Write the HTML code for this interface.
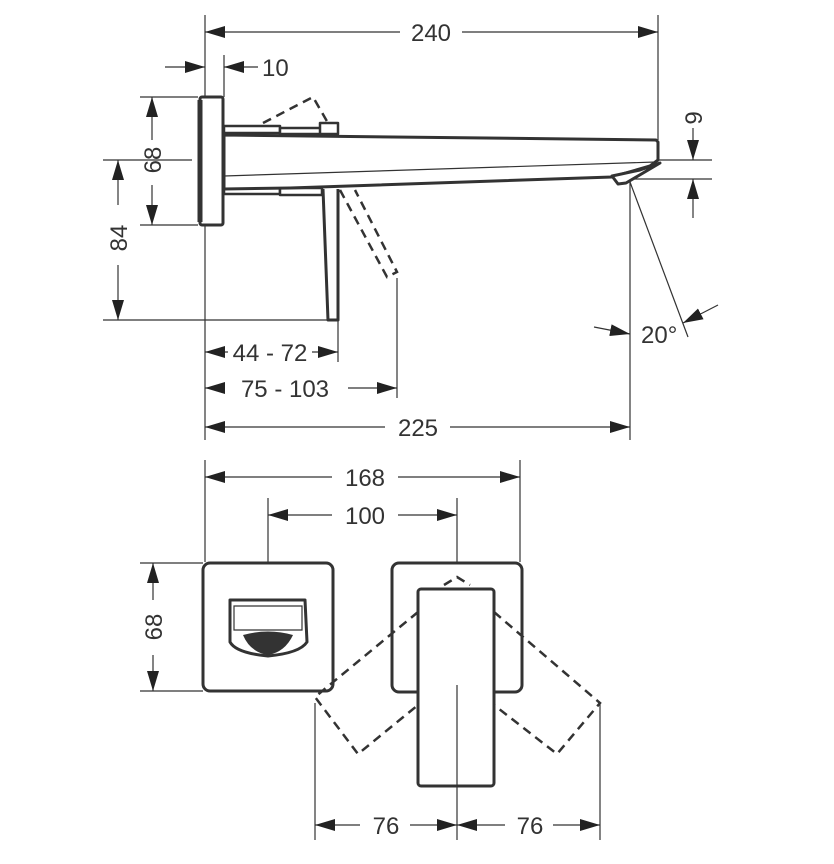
<!DOCTYPE html>
<html><head><meta charset="utf-8"><style>
html,body{margin:0;padding:0;background:#fff;}
svg{display:block;}
text{font-family:"Liberation Sans",sans-serif;font-size:24px;fill:#333;}
</style></head><body>
<svg width="834" height="864" viewBox="0 0 834 864" xmlns="http://www.w3.org/2000/svg">
<defs>
<marker id="a" viewBox="0 0 20 12" refX="20" refY="6" markerWidth="20" markerHeight="12" markerUnits="userSpaceOnUse" orient="auto"><path d="M0,0 L20,6 L0,12 z" fill="#222"/></marker>
<marker id="b" viewBox="0 0 20 12" refX="0" refY="6" markerWidth="20" markerHeight="12" markerUnits="userSpaceOnUse" orient="auto"><path d="M20,0 L0,6 L20,12 z" fill="#222"/></marker>
</defs>
<g stroke="#333" stroke-width="1.2" fill="none">
<line x1="205" y1="15" x2="205" y2="440"/>
<line x1="658" y1="15" x2="658" y2="140"/>
<line x1="224" y1="55" x2="224" y2="97"/>
<line x1="103" y1="160" x2="192" y2="160"/>
<line x1="228" y1="160" x2="712" y2="160"/>
<line x1="615" y1="179" x2="712" y2="179"/>
<line x1="140" y1="97" x2="198" y2="97"/>
<line x1="140" y1="225" x2="198" y2="225"/>
<line x1="103" y1="320" x2="330" y2="320"/>
<line x1="338" y1="320" x2="338" y2="362"/>
<line x1="397" y1="278" x2="397" y2="398"/>
<line x1="630" y1="182" x2="630" y2="440"/>
<line x1="630" y1="182" x2="688" y2="337"/>
<line x1="205" y1="32" x2="400" y2="32" marker-start="url(#b)"/>
<line x1="462" y1="32" x2="658" y2="32" marker-end="url(#a)"/>
<line x1="165" y1="67" x2="205" y2="67" marker-end="url(#a)"/>
<line x1="258" y1="67" x2="224" y2="67" marker-end="url(#a)"/>
<line x1="152" y1="140" x2="152" y2="97" marker-end="url(#a)"/>
<line x1="152" y1="185" x2="152" y2="225" marker-end="url(#a)"/>
<line x1="118" y1="205" x2="118" y2="160" marker-end="url(#a)"/>
<line x1="118" y1="265" x2="118" y2="320" marker-end="url(#a)"/>
<line x1="693" y1="128" x2="693" y2="160" marker-end="url(#a)"/>
<line x1="693" y1="218" x2="693" y2="179" marker-end="url(#a)"/>
<line x1="594" y1="327" x2="630" y2="334" marker-end="url(#a)"/>
<line x1="718" y1="305" x2="683" y2="323" marker-end="url(#a)"/>
<line x1="205" y1="352" x2="228" y2="352" marker-start="url(#b)"/>
<line x1="312" y1="352" x2="338" y2="352" marker-end="url(#a)"/>
<line x1="205" y1="388" x2="222" y2="388" marker-start="url(#b)"/>
<line x1="348" y1="388" x2="397" y2="388" marker-end="url(#a)"/>
<line x1="205" y1="427" x2="385" y2="427" marker-start="url(#b)"/>
<line x1="450" y1="427" x2="630" y2="427" marker-end="url(#a)"/>
<line x1="205" y1="460" x2="205" y2="562"/>
<line x1="520" y1="460" x2="520" y2="562"/>
<line x1="268" y1="498" x2="268" y2="598"/>
<line x1="457" y1="498" x2="457" y2="580"/>
<line x1="457" y1="685" x2="457" y2="840"/>
<line x1="315" y1="703" x2="315" y2="840"/>
<line x1="600" y1="703" x2="600" y2="840"/>
<line x1="140" y1="563" x2="203" y2="563"/>
<line x1="140" y1="691" x2="203" y2="691"/>
<line x1="205" y1="477" x2="332" y2="477" marker-start="url(#b)"/>
<line x1="398" y1="477" x2="520" y2="477" marker-end="url(#a)"/>
<line x1="268" y1="515" x2="332" y2="515" marker-start="url(#b)"/>
<line x1="398" y1="515" x2="457" y2="515" marker-end="url(#a)"/>
<line x1="153" y1="600" x2="153" y2="563" marker-end="url(#a)"/>
<line x1="153" y1="655" x2="153" y2="691" marker-end="url(#a)"/>
<line x1="315" y1="825" x2="360" y2="825" marker-start="url(#b)"/>
<line x1="410" y1="825" x2="457" y2="825" marker-end="url(#a)"/>
<line x1="457" y1="825" x2="505" y2="825" marker-start="url(#b)"/>
<line x1="553" y1="825" x2="600" y2="825" marker-end="url(#a)"/>
</g>
<g stroke="#333" stroke-width="3" fill="#fff" stroke-linejoin="round">
<rect x="200" y="97" width="23" height="128" rx="2"/>
<line x1="200" y1="100" x2="200" y2="222" stroke-width="5"/>
<path d="M224,126 L280,126 L280,133 L224,133 Z" stroke-width="2.5"/>
<path d="M224,187 L280,187 L280,194 L224,194 Z" stroke-width="2.5"/>
<rect x="280" y="128" width="42" height="6" stroke-width="2.5"/>
<rect x="320" y="123" width="18" height="11" stroke-width="2.5"/>
<rect x="280" y="188" width="42" height="7" stroke-width="2.5"/>
<path d="M224,135 L656,140 L658,142 L658,160 L650,166 L612,177 L290,188 L224,189 Z"/>
<path d="M612,176 L640,170 L660,163 L626,183 L618,184 Z" fill="#fff"/>
<path d="M323,189 L328,320 L338,320 L338,189" />
</g>
<g stroke="#333" stroke-width="1.2" fill="none">
<line x1="224" y1="176" x2="656" y2="162"/>
</g>
<g stroke="#333" stroke-width="2.5" fill="none" stroke-dasharray="9,6">
<path d="M263,123 L313,97 L328,123"/>
<path d="M340,190 L387,277 L397,272 L355,190"/>
</g>
<g stroke="#333" stroke-width="3" fill="#fff" stroke-linejoin="round">
<rect x="203" y="563" width="130" height="128" rx="7"/>
<path d="M230,600 L305,600 L307,642 Q300,653 268,656 Q236,653 230,642 Z"/>
<rect x="392" y="563" width="130" height="129" rx="7"/>
</g>
<g stroke="#333" stroke-width="1.2" fill="none">
<path d="M234,606 L302,606 L302,630 L234,630 Z"/>
</g>
<path d="M243,635 Q268,628 293,635 Q285,652 268,655 Q250,652 243,635 Z" fill="#333"/>
<g stroke="#333" stroke-width="2.5" fill="none" stroke-dasharray="9,6">
<path d="M418,612 L315,697 L358,754 L418,705"/>
<path d="M494,612 L600,703 L557,754 L494,705"/>
<path d="M444,585 L457,577 L470,585"/>
</g>
<rect x="418" y="589" width="76" height="197" rx="3" fill="#fff" stroke="#333" stroke-width="3"/>
<line x1="457" y1="685" x2="457" y2="786" stroke="#333" stroke-width="1.2"/>
<text x="431" y="41" text-anchor="middle">240</text>
<text x="262" y="76">10</text>
<text transform="translate(161,160) rotate(-90)" text-anchor="middle">68</text>
<text transform="translate(127,238) rotate(-90)" text-anchor="middle">84</text>
<text transform="translate(702,118) rotate(-90)" text-anchor="middle">9</text>
<text x="641" y="343">20°</text>
<text x="270" y="361" text-anchor="middle">44 - 72</text>
<text x="285" y="397" text-anchor="middle">75 - 103</text>
<text x="418" y="436" text-anchor="middle">225</text>
<text x="365" y="486" text-anchor="middle">168</text>
<text x="365" y="524" text-anchor="middle">100</text>
<text transform="translate(162,627) rotate(-90)" text-anchor="middle">68</text>
<text x="386" y="834" text-anchor="middle">76</text>
<text x="530" y="834" text-anchor="middle">76</text>
</svg>
</body></html>
